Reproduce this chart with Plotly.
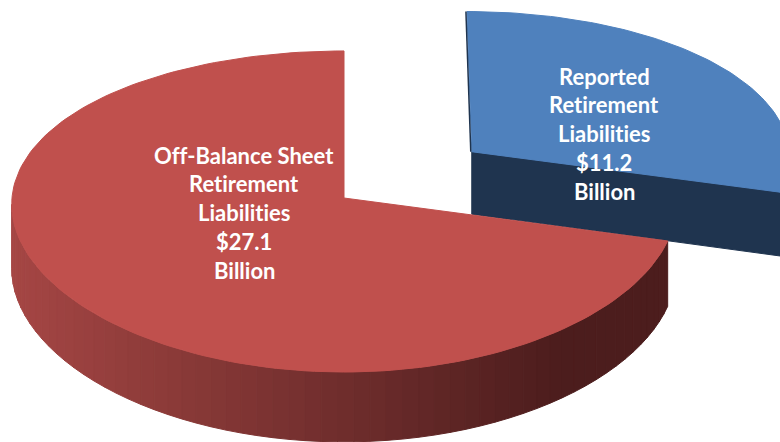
import math
import plotly.graph_objects as go

# ---- data ----
labels = ["Off-Balance Sheet Retirement Liabilities", "Reported Retirement Liabilities"]
label_lines = [["Off-Balance Sheet", "Retirement", "Liabilities"],
               ["Reported", "Retirement", "Liabilities"]]
values = [27.1, 11.2]
units = "Billion"

# ---- styling / geometry (layout constants) ----
W, H = 780, 442
top_colors = ["#C0504D", "#4F81BD"]
navy = "#1F344F"
red_wall_left = (165, 70, 68)
red_wall_right = (76, 29, 29)

# perspective projection of a tilted disk
CX, CY = 344, 198        # projected centre of the red disk
AX, BY = 332, 159.4      # horizontal / vertical scale
KX, KY = 0.04, 0.084     # perspective factors (far side smaller)
T0 = 64                  # slice thickness
explode = 0.49           # blue slice offset (disk radii)
blue_hscale = 0.97       # blue slice appears slightly narrower

def proj(X, Y, dz=0.0):
    dx = 1 + KX * Y
    dy = 1 + KY * Y
    return CX + AX * X / dx, CY - BY * Y / dy + dz / dy

total = sum(values)
start = 90.0
red_span = 360.0 * values[0] / total  # counter-clockwise from 12 o'clock
red_end = start + red_span
blue_end = red_end - 360.0
blue_mid = math.radians((start + blue_end) / 2)
OX, OY = explode * math.cos(blue_mid), explode * math.sin(blue_mid)

def rim(off, a, dz=0.0, hs=1.0):
    r = math.radians(a)
    return proj(off[0] + hs * math.cos(r), off[1] + math.sin(r), dz)

def arc(off, a0, a1, n, dz=0.0, hs=1.0):
    return [rim(off, a0 + (a1 - a0) * i / n, dz, hs) for i in range(n + 1)]

fig = go.Figure()

def poly(pts, color, lw=0.0, lc=None):
    xs = [p[0] for p in pts] + [pts[0][0]]
    ys = [p[1] for p in pts] + [pts[0][1]]
    fig.add_trace(go.Scatter(x=xs, y=ys, mode="lines", fill="toself",
                             fillcolor=color,
                             line=dict(color=lc or color, width=lw),
                             hoverinfo="skip", showlegend=False))

def mix(c0, c1, f):
    f = max(0.0, min(1.0, f))
    return "rgb(%d,%d,%d)" % tuple(round(c0[i] + (c1[i] - c0[i]) * f) for i in range(3))

# ---- blue slice (behind) ----
hs = blue_hscale
offB = (OX, OY)
apexB = proj(OX, OY)
apexB2 = proj(OX, OY, T0)
pB, pB2 = rim(offB, blue_end, 0, hs), rim(offB, blue_end, T0, hs)
poly([apexB, pB, pB2, apexB2], navy, 1, navy)
poly(arc(offB, 0, blue_end, 8, 0, hs) + arc(offB, blue_end, 0, 8, T0, hs), navy, 1, navy)
poly([apexB] + arc(offB, start, blue_end, 80, 0, hs), top_colors[1], 1, top_colors[1])
tB = rim(offB, start, 0, hs)
fig.add_trace(go.Scatter(x=[tB[0] - 1, apexB[0] - 1], y=[tB[1], apexB[1]],
                         mode="lines", line=dict(color=navy, width=1.5),
                         hoverinfo="skip", showlegend=False))

# ---- red slice ----
offR = (0.0, 0.0)
apexR = proj(0, 0)
a0 = 180.0 + math.degrees(math.asin(KX))
a1 = red_end
n = 60
for i in range(n):
    aa = a0 + (a1 - a0) * i / n
    ab = a0 + (a1 - a0) * (i + 1) / n
    p1, p2 = rim(offR, aa), rim(offR, ab)
    q1, q2 = rim(offR, aa, T0), rim(offR, ab, T0)
    xm = (p1[0] + p2[0]) / 2
    col = mix(red_wall_left, red_wall_right, (xm - 12) / (560 - 12))
    poly([p1, p2, q2, q1], col, 1, col)
poly([apexR] + arc(offR, start, red_end, 160), top_colors[0], 1, top_colors[0])

# ---- labels ----
label_pos = [(244, 155), (604, 76)]
step = 28.8
for k in range(2):
    lines = label_lines[k] + ["$%.1f" % values[k], units]
    x0, y0 = label_pos[k]
    for j, ln in enumerate(lines):
        fig.add_annotation(x=x0, y=y0 + j * step,
                           text="<span style='font-variant-ligatures:none'><b>%s</b></span>" % ln,
                           showarrow=False, xanchor="center", yanchor="middle",
                           font=dict(family="Lato", size=22, color="white"))

fig.update_xaxes(range=[0, W], visible=False, fixedrange=True)
fig.update_yaxes(range=[H, 0], visible=False, fixedrange=True)
fig.update_layout(width=W, height=H, margin=dict(l=0, r=0, t=0, b=0),
                  paper_bgcolor="white", plot_bgcolor="white", showlegend=False)
fig.write_html("out.html", config={"displayModeBar": False},
               post_script="document.body.style.margin='0';")
